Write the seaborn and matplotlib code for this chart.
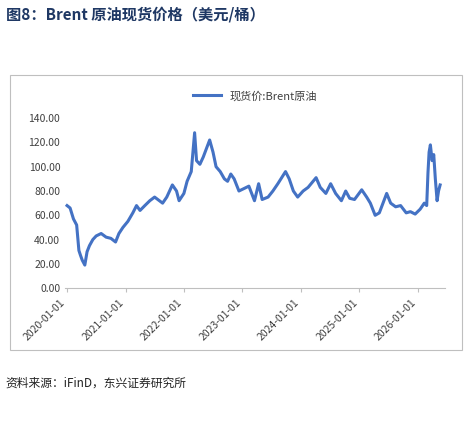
import matplotlib
matplotlib.use("Agg")
import matplotlib.pyplot as plt
import matplotlib.dates as mdates
import seaborn as sns
import pandas as pd
from matplotlib.patches import Rectangle

dates = ["2020-01-01","2020-01-20","2020-02-10","2020-03-01","2020-03-15","2020-03-25","2020-04-05","2020-04-21","2020-05-05","2020-05-20",
 "2020-06-10","2020-07-01","2020-08-01","2020-09-01","2020-10-01","2020-10-30","2020-11-20","2020-12-15",
 "2021-01-15","2021-02-15","2021-03-10","2021-04-01","2021-05-01","2021-06-01","2021-07-01","2021-08-20","2021-09-15","2021-10-20","2021-11-15","2021-12-01","2021-12-31",
 "2022-01-20","2022-02-15","2022-03-08","2022-03-20","2022-04-10","2022-05-01","2022-06-10","2022-07-01","2022-07-20","2022-08-15","2022-09-10","2022-09-30","2022-10-20","2022-11-10","2022-12-10",
 "2023-01-10","2023-02-10","2023-03-17","2023-04-12","2023-05-04","2023-06-10","2023-07-10","2023-08-10","2023-09-27","2023-10-20","2023-11-15","2023-12-12",
 "2024-01-15","2024-02-15","2024-04-05","2024-05-01","2024-06-05","2024-07-05","2024-08-05","2024-09-10","2024-10-07","2024-11-01","2024-12-01",
 "2025-01-15","2025-02-15","2025-03-10","2025-04-09","2025-05-05","2025-06-20","2025-07-15","2025-08-15","2025-09-15","2025-10-20","2025-11-15","2025-12-15",
 "2026-01-15","2026-02-10","2026-02-25","2026-03-05","2026-03-12","2026-03-20","2026-03-31","2026-04-10","2026-04-20","2026-05-01","2026-05-10","2026-05-20"]
prices = [68,66,57,52,31,27,23,19,30,35,40,43,45,42,41,38,45,50,
 55,62,68,64,68,72,75,70,75,85,80,72,78,
 88,96,128,105,102,108,122,112,100,96,90,88,94,90,80,
 82,84,72,86,73,75,80,86,96,90,80,75,
 80,83,91,83,78,86,78,72,80,74,73,
 81,75,70,60,62,78,70,67,68,62,63,61,
 65,70,68,95,112,118,105,110,90,72,80,85]
series_label = "现货价:Brent原油"
yticks = [0,20,40,60,80,100,120,140]

df = pd.DataFrame({"date": pd.to_datetime(dates), "price": prices})

fig = plt.figure(figsize=(4.72, 4.25), dpi=100)
plt.rcParams['font.family'] = ['Noto Sans CJK SC', 'DejaVu Sans']
ax = fig.add_axes([0.138, 0.322, 0.805, 0.40])
fig.patches.append(Rectangle((0.021, 0.177), 0.958, 0.647, transform=fig.transFigure,
                             fill=False, edgecolor="#bfbfbf", lw=0.8))
sns.lineplot(data=df, x="date", y="price", ax=ax, color="#4472C4", lw=2.2, label=series_label)
ax.set_xlim(pd.Timestamp("2019-12-20"), pd.Timestamp("2026-06-20"))
ax.set_ylim(0, 140)
ax.set_yticks(yticks)
ax.set_yticklabels([f"{v:.2f}" for v in yticks], fontsize=7.5, color="#404040")
ax.xaxis.set_major_locator(mdates.YearLocator())
ax.xaxis.set_major_formatter(mdates.DateFormatter("%Y-%m-%d"))
for t in ax.get_xticklabels():
    t.set_rotation(45); t.set_ha("right"); t.set_fontsize(7.5); t.set_color("#404040")
ax.tick_params(axis="y", length=0)
ax.tick_params(axis="x", length=3, color="#bfbfbf")
for s in ["top", "right", "left"]:
    ax.spines[s].set_visible(False)
ax.spines["bottom"].set_color("#bfbfbf")
ax.set_xlabel(""); ax.set_ylabel("")
ax.legend(loc="upper center", bbox_to_anchor=(0.5, 1.22), frameon=False, fontsize=8,
          handlelength=2.5, labelcolor="#404040")
fig.text(0.012, 0.955, "图8：Brent 原油现货价格（美元/桶）", fontsize=11, fontweight="bold", color="#1F3864")
fig.text(0.012, 0.09, "资料来源：iFinD，东兴证券研究所", fontsize=8.5, style="italic", color="#222222")
fig.savefig("out.png", dpi=100)
